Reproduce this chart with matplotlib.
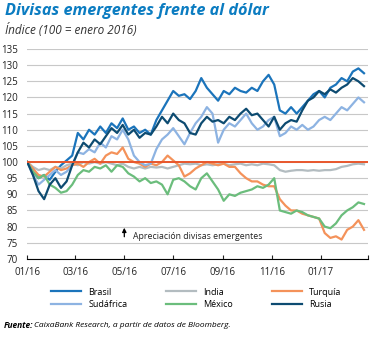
import matplotlib
matplotlib.use("Agg")
import matplotlib.pyplot as plt
import matplotlib.dates as mdates
import pandas as pd

plt.rcParams['font.family'] = ['Open Sans', 'DejaVu Sans']

# weekly observations, 01/01/2016 - 24/02/2017
dates = pd.date_range("2016-01-01", periods=61, freq="7D")

brasil = [100, 97, 95, 96, 94.5, 97, 99, 100.5, 102, 109, 107, 110, 108.5, 111, 109, 112,
          110.5, 113.5, 110, 111, 109, 110, 108.5, 113, 116, 119, 122, 120.5, 121, 119.5,
          122, 126, 123, 121, 119, 122, 121, 123, 122, 121.5, 123, 122, 125, 127, 124,
          116, 115, 117, 115, 117, 119, 121, 122, 120, 123, 124, 126, 125, 128, 129, 127.5]
sudafrica = [100, 96, 93, 94.5, 96, 97.5, 96, 97, 99, 103, 102.5, 104, 103, 106, 104.5, 108,
             107, 110, 107, 102, 100, 99, 99.5, 104, 107, 108.5, 110.5, 108, 105.5, 109,
             112, 114, 117, 115, 106, 110, 112, 111, 113, 115, 112, 110, 111, 113, 114,
             108, 109, 111, 110, 111.5, 110, 111, 113, 114, 113, 115, 117, 116, 118, 120, 118.5]
india = [100, 98.5, 97.5, 98, 97.5, 98.5, 98, 99, 99.5, 99, 100, 99.5, 100, 99.5, 100, 99.5,
         99, 99.5, 98.5, 98, 98.5, 98, 98.5, 98.3, 98.5, 98, 98.5, 99, 99.5, 99.3, 99.5,
         99, 99.3, 99, 99.3, 99.5, 99, 99.3, 99.5, 99, 99.3, 99, 99.5, 99.3, 99, 97.5,
         97, 97.3, 97.5, 97.5, 97.3, 97.5, 97.3, 97.5, 97.5, 97.8, 98.5, 98.8, 99.3, 99.5, 99.3]
mexico = [100, 97, 95, 96, 93, 92, 90.5, 91, 93, 96, 97.5, 97, 98.5, 98, 99, 97, 99, 98.5,
          96.5, 95.5, 94, 95, 93.5, 94, 93, 90, 94.5, 95, 94, 92.5, 91.5, 95, 96.5, 94,
          91.5, 88, 90, 89.5, 90.5, 91, 91.5, 92.5, 92, 93, 95, 85, 84.5, 84, 85, 84.5,
          83.5, 83, 82.5, 80, 79.5, 81, 83.5, 85, 86, 87.5, 87]
turquia = [100, 98, 96, 95.5, 97, 98.5, 97.5, 98, 99, 99.5, 98.5, 100, 101, 99.5, 102, 103,
           102.5, 104.5, 101, 100, 99.5, 98.5, 99.5, 99, 100, 102, 100.5, 99, 95.5, 96.5,
           98, 99, 100, 99.5, 99, 99.5, 98.5, 98.5, 96.5, 95, 94, 94, 93, 92.5, 92.5,
           88.5, 86.5, 85, 85, 84, 83.5, 83, 82.5, 78, 76.5, 77, 76, 79, 80, 82, 79]
rusia = [100, 96, 91, 88.5, 93, 95, 92, 94, 99, 103, 106, 104.5, 107, 105.5, 108, 110.5,
         109, 111.5, 108.5, 110, 107.5, 109, 108.5, 111, 114, 112, 115, 113, 112, 109,
         108.5, 112, 114, 112.5, 113, 112, 114, 113, 115, 116.5, 114.5, 115, 113, 111,
         114, 110, 112, 113, 112.5, 116, 119, 120, 122, 121, 122.5, 121.5, 123, 124, 126,
         125, 123.5]

fig = plt.figure(figsize=(3.74, 3.38), dpi=100)
ax = fig.add_axes([0.073, 0.234, 0.911, 0.621])

ax.plot(dates, brasil, color="#1b74bb", lw=1.6, label="Brasil")
ax.plot(dates, india, color="#b3bcc0", lw=1.6, label="India")
ax.plot(dates, turquia, color="#f4925a", lw=1.6, label="Turquía")
ax.plot(dates, sudafrica, color="#8db3e2", lw=1.6, label="Sudáfrica")
ax.plot(dates, mexico, color="#6bbd7c", lw=1.6, label="México")
ax.plot(dates, rusia, color="#0d4b71", lw=1.6, label="Rusia")
ax.axhline(100, color="#e8562c", lw=1.4)

ax.set_ylim(70, 135)
ax.set_yticks(range(70, 136, 5))
ax.set_xlim(pd.Timestamp("2016-01-01"), pd.Timestamp("2017-03-01"))
ticks = pd.date_range("2016-01-01", "2017-03-01", freq="2MS")
ax.set_xticks(ticks)
ax.set_xticklabels([d.strftime("%m/%y") for d in ticks[:-1]] + [""])
ax.grid(axis="y", color="#c8c8c8", lw=0.8)
ax.set_axisbelow(True)
for s in ["top", "right", "left"]:
    ax.spines[s].set_visible(False)
ax.spines["bottom"].set_linewidth(0.8)
ax.tick_params(axis="y", length=0, labelsize=7, pad=7, colors="#222222")
ax.tick_params(axis="x", direction="in", length=3, width=0.8, labelsize=7, pad=6, colors="#222222")

ax.annotate("", xy=(pd.Timestamp("2016-05-01"), 80.5), xytext=(pd.Timestamp("2016-05-01"), 76),
            arrowprops=dict(arrowstyle="-|>", color="black", lw=0.9, mutation_scale=6))
ax.text(pd.Timestamp("2016-05-12"), 77, "Apreciación divisas emergentes", fontsize=6.3,
        va="center", ha="left", color="#222222")

fig.text(0.013, 0.967, "Divisas emergentes frente al dólar", fontsize=11.7, fontweight="bold",
         style="italic", color="#0b7cc1", va="center")
fig.text(0.013, 0.91, "Índice (100 = enero 2016)", fontsize=8.5, style="italic",
         color="#333333", va="center")

handles, labels = ax.get_legend_handles_labels()
order = [0, 3, 1, 4, 2, 5]
fig.legend([handles[i] for i in order], [labels[i] for i in order], ncol=3,
           loc="center", bbox_to_anchor=(0.525, 0.118), frameon=False, fontsize=6.5,
           handlelength=3.3, columnspacing=4.3, labelspacing=0.35, handletextpad=0.8)

fig.text(0.01, 0.038, "Fuente:", fontsize=6, fontweight="bold", style="italic", va="center")
fig.text(0.09, 0.038, "CaixaBank Research, a partir de datos de Bloomberg.", fontsize=6,
         style="italic", va="center")

fig.savefig("out.png", dpi=100)
